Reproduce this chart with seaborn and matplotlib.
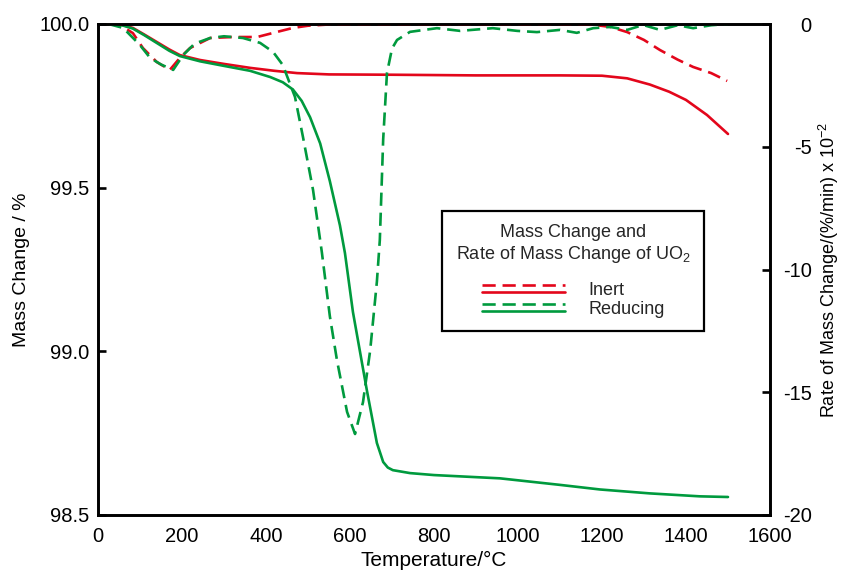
import numpy as np
import pandas as pd
import matplotlib
matplotlib.use("Agg")
import matplotlib.pyplot as plt
import seaborn as sns
from matplotlib.legend_handler import HandlerBase
from matplotlib.lines import Line2D

# ---------------- data ----------------
inert_mass_T = [25, 55, 83, 110, 140, 170, 195, 243, 300, 362, 420, 474, 550, 700, 900, 1100, 1200, 1260, 1314, 1360, 1400, 1450, 1500]
inert_mass = [100.0, 99.998, 99.988, 99.968, 99.945, 99.922, 99.905, 99.89, 99.878, 99.866, 99.857, 99.85, 99.846, 99.845, 99.843, 99.843, 99.842, 99.834, 99.815, 99.793, 99.768, 99.722, 99.664]

red_mass_T = [25, 55, 83, 110, 140, 170, 195, 243, 300, 362, 410, 440, 464, 485, 505, 529, 552, 576, 588, 607, 640, 664, 679, 690, 702, 743, 800, 957, 1100, 1195, 1314, 1433, 1500]
red_mass = [100.0, 99.997, 99.986, 99.966, 99.942, 99.918, 99.902, 99.886, 99.872, 99.857, 99.838, 99.822, 99.800, 99.765, 99.715, 99.635, 99.52, 99.385, 99.30, 99.12, 98.882, 98.720, 98.662, 98.645, 98.637, 98.628, 98.622, 98.612, 98.592, 98.578, 98.566, 98.557, 98.555]

inert_rate_T = [25, 52, 83, 107, 140, 171, 195, 219, 267, 321, 379, 420, 464, 500, 550, 700, 900, 1100, 1179, 1220, 1260, 1300, 1338, 1380, 1417, 1460, 1498]
inert_rate = [0.0, -0.04, -0.37, -0.98, -1.55, -1.87, -1.38, -0.98, -0.57, -0.53, -0.53, -0.35, -0.16, -0.07, -0.02, -0.02, -0.02, -0.02, -0.03, -0.12, -0.33, -0.65, -1.06, -1.45, -1.75, -2.0, -2.32]

red_rate_T = [25, 60, 100, 124, 150, 179, 203, 230, 267, 300, 345, 386, 417, 440, 469, 488, 512, 533, 552, 569, 593, 612, 631, 648, 664, 671, 679, 688, 700, 712, 743, 807, 862, 940, 998, 1045, 1100, 1140, 1179, 1219, 1260, 1298, 1338, 1380, 1417, 1460, 1500]
red_rate = [0.0, -0.16, -0.86, -1.38, -1.65, -1.87, -1.26, -0.8, -0.57, -0.5, -0.57, -0.77, -1.14, -1.67, -2.97, -4.6, -6.76, -9.3, -11.9, -13.7, -15.8, -16.7, -15.4, -13.3, -10.5, -8.8, -4.7, -2.0, -1.0, -0.65, -0.32, -0.17, -0.28, -0.17, -0.28, -0.33, -0.24, -0.36, -0.17, -0.12, -0.24, -0.04, -0.24, -0.05, -0.17, -0.05, 0.0]

x_ticks = [0, 200, 400, 600, 800, 1000, 1200, 1400, 1600]
left_ticks = [98.5, 99.0, 99.5, 100.0]
right_ticks = [0, -5, -10, -15, -20]

RED = "#E3061B"
GREEN = "#009A3E"
LW = 1.9
DASH = (0, (5, 2.6))

# ---------------- style ----------------
sns.set_theme(style="white")
plt.rcParams["font.family"] = ["Liberation Sans", "DejaVu Sans"]
plt.rcParams["mathtext.fontset"] = "custom"
plt.rcParams["mathtext.rm"] = "Liberation Sans"
plt.rcParams["mathtext.it"] = "Liberation Sans"

fig = plt.figure(figsize=(8.43, 5.72), dpi=100)
ax = fig.add_axes([98 / 843, 1 - 515 / 572, 672 / 843, 491 / 572])
ax2 = ax.twinx()

sns.lineplot(x=inert_mass_T, y=inert_mass, ax=ax, color=RED, lw=LW, sort=False, estimator=None)
sns.lineplot(x=red_mass_T, y=red_mass, ax=ax, color=GREEN, lw=LW, sort=False, estimator=None)
sns.lineplot(x=inert_rate_T, y=inert_rate, ax=ax2, color=RED, lw=LW, sort=False, estimator=None, linestyle=DASH)
sns.lineplot(x=red_rate_T, y=red_rate, ax=ax2, color=GREEN, lw=LW, sort=False, estimator=None, linestyle=DASH)

ax.set_xlim(0, 1600)
ax.set_ylim(98.5, 100.0)
ax2.set_ylim(-20, 0)
ax.set_xticks(x_ticks)
ax.set_yticks(left_ticks)
ax.set_yticklabels([f"{v:.1f}" for v in left_ticks])
ax2.set_yticks(right_ticks)
ax2.set_yticklabels([str(v) for v in right_ticks])

for a in (ax, ax2):
    for s in a.spines.values():
        s.set_color("black")
        s.set_linewidth(1.9)

FS = 14.5
ax.tick_params(axis="x", direction="in", length=6, width=1.9, labelsize=FS, pad=9, top=False, colors="black")
ax.tick_params(axis="y", direction="in", length=6, width=1.9, labelsize=FS, pad=6, right=False, colors="black")
ax2.tick_params(axis="y", direction="in", length=6, width=1.9, labelsize=FS, pad=30, colors="black")
for t in ax2.get_yticklabels():
    t.set_horizontalalignment("right")

ax.set_xlabel("Temperature/°C", fontsize=15, labelpad=3, color="black")
ax.set_ylabel("Mass Change / %", fontsize=14, labelpad=7, color="black")
ax2.set_ylabel("Rate of Mass Change/(%/min) x 10$^{-2}$", fontsize=13, labelpad=4, color="black")


class DoubleLine(HandlerBase):
    def create_artists(self, legend, orig_handle, xdescent, ydescent, width, height, fontsize, trans):
        c = orig_handle.get_color()
        y1 = height * 0.5 + 2.8
        y2 = height * 0.5 - 2.8
        l1 = Line2D([-xdescent, width - xdescent], [y1, y1], color=c, lw=LW, linestyle=DASH, transform=trans)
        l2 = Line2D([-xdescent, width - xdescent], [y2, y2], color=c, lw=LW, transform=trans)
        return [l1, l2]


h_inert = Line2D([], [], color=RED)
h_red = Line2D([], [], color=GREEN)
leg = ax2.legend([h_inert, h_red], ["Inert", "Reducing"],
                 handler_map={Line2D: DoubleLine()},
                 title="Mass Change and\nRate of Mass Change of UO$_2$",
                 loc="center", bbox_to_anchor=(0.707, 0.497),
                 fontsize=13, title_fontsize=13, handlelength=4.6, handletextpad=1.3,
                 labelspacing=0.1, frameon=True, fancybox=False, borderpad=0.75,
                 edgecolor="black", framealpha=1, borderaxespad=0)
leg.get_frame().set_linewidth(1.6)
leg.get_title().set_multialignment("center")
leg._legend_box.sep = 12

fig.savefig("out.png", dpi=100, facecolor="white")
